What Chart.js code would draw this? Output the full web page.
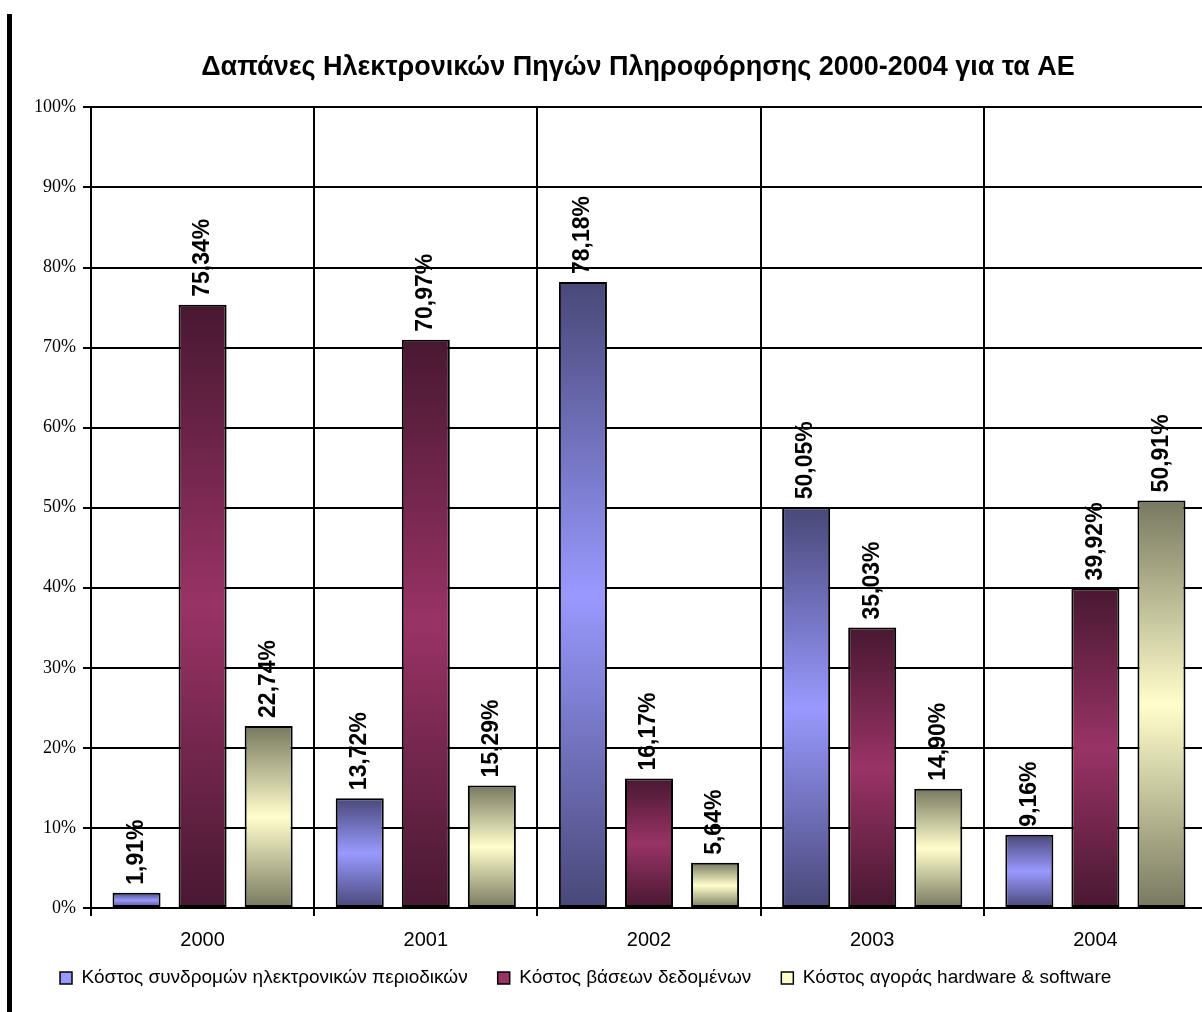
<!DOCTYPE html>
<html>
<head>
<meta charset="utf-8">
<script src="https://cdn.jsdelivr.net/npm/chart.js@4.4.0/dist/chart.umd.min.js"></script>
<style>
  html, body { margin: 0; padding: 0; background: #fff; overflow: hidden; }
  #wrap { position: relative; width: 1215px; height: 1012px; }
  #edge { position: absolute; left: 7px; top: 14px; width: 5px; height: 998px; background: #000; }
</style>
</head>
<body>
<div id="wrap">
  <canvas id="chart" width="1215" height="1012"></canvas>
  <div id="edge"></div>
</div>
<script>
// data
const years = ["2000", "2001", "2002", "2003", "2004"];
const seriesNames = [
  "Κόστος συνδρομών ηλεκτρονικών περιοδικών",
  "Κόστος βάσεων δεδομένων",
  "Κόστος αγοράς hardware & software"
];
const journals = [1.91, 13.72, 78.18, 50.05, 9.16];
const databases = [75.34, 70.97, 16.17, 35.03, 39.92];
const hardware = [22.74, 15.29, 5.64, 14.90, 50.91];

const lightColors = ["#9999ff", "#993366", "#ffffcc"];
const darkColors = ["#484878", "#481830", "#787860"];

const SANS = '"Liberation Sans", Arial, sans-serif';
const SERIF = '"Liberation Serif", "Times New Roman", serif';

// vertical gradient per bar: dark - light - dark
function barGradient(light, dark) {
  return (c) => {
    const chart = c.chart;
    if (!chart.chartArea || c.raw == null) return light;
    const y = chart.scales.y;
    const top = y.getPixelForValue(c.raw);
    const base = y.getPixelForValue(0);
    if (base - top < 1) return light;
    const g = chart.ctx.createLinearGradient(0, top, 0, base);
    g.addColorStop(0, dark);
    g.addColorStop(0.5, light);
    g.addColorStop(1, dark);
    return g;
  };
}

// rotated value labels above the bars
const valueLabels = {
  id: "valueLabels",
  afterDatasetsDraw(chart) {
    const ctx = chart.ctx;
    ctx.save();
    ctx.font = "bold 23px " + SANS;
    ctx.fillStyle = "#000";
    ctx.textAlign = "left";
    ctx.textBaseline = "middle";
    chart.data.datasets.forEach((ds, i) => {
      chart.getDatasetMeta(i).data.forEach((bar, j) => {
        const txt = ds.data[j].toFixed(2).replace(".", ",") + "%";
        ctx.save();
        ctx.translate(bar.x, bar.y - 8);
        ctx.rotate(-Math.PI / 2);
        ctx.fillText(txt, 0, 0);
        ctx.restore();
      });
    });
    ctx.restore();
  }
};

// small position tweaks: legend sits closer to the axis labels, title a bit left
const nudge = {
  id: "nudge",
  afterLayout(chart) {
    const lg = chart.legend;
    if (lg) { lg.top -= 14.5; lg.bottom -= 14.5; lg.left += 6; lg.right += 6; }
    const tb = chart.titleBlock;
    if (tb) { tb.left -= 11; tb.right -= 11; }
  }
};

const makeSet = (i, values) => ({
  label: seriesNames[i],
  data: values,
  backgroundColor: barGradient(lightColors[i], darkColors[i]),
  borderColor: "#000",
  borderWidth: 2,
  borderSkipped: false,
  categoryPercentage: 0.888,
  barPercentage: 0.727
});

new Chart(document.getElementById("chart"), {
  type: "bar",
  data: {
    labels: years,
    datasets: [makeSet(0, journals), makeSet(1, databases), makeSet(2, hardware)]
  },
  options: {
    responsive: false,
    animation: false,
    layout: { padding: { left: 24, right: 8, top: 30, bottom: 0 } },
    scales: {
      x: {
        grid: { color: "#000", lineWidth: 2, tickLength: 8, offset: true },
        border: { color: "#000", width: 2 },
        ticks: { color: "#000", font: { family: SANS, size: 20 }, padding: 12 },
        afterFit: (s) => { s.height = 45; }
      },
      y: {
        min: 0,
        max: 100,
        grid: { color: "#000", lineWidth: 2, tickLength: 8 },
        border: { color: "#000", width: 2 },
        ticks: {
          stepSize: 10,
          color: "#000",
          padding: 7,
          font: { family: SERIF, size: 18 },
          callback: (v) => v + "%"
        },
        afterFit: (s) => { s.width = 67; }
      }
    },
    plugins: {
      title: {
        display: true,
        text: "Δαπάνες Ηλεκτρονικών Πηγών Πληροφόρησης 2000-2004 για τα ΑΕ",
        fullSize: false,
        color: "#000",
        font: { family: SANS, size: 27, weight: "bold" },
        padding: { top: 21, bottom: 24 }
      },
      legend: {
        position: "bottom",
        align: "start",
        labels: {
          boxWidth: 12,
          boxHeight: 12,
          padding: 30,
          color: "#000",
          font: { family: SANS, size: 19 },
          generateLabels: (chart) => chart.data.datasets.map((ds, i) => ({
            text: ds.label,
            fillStyle: lightColors[i],
            strokeStyle: "#000",
            lineWidth: 1.5,
            hidden: false,
            datasetIndex: i
          }))
        }
      },
      tooltip: { enabled: false }
    }
  },
  plugins: [valueLabels, nudge]
});
</script>
</body>
</html>
